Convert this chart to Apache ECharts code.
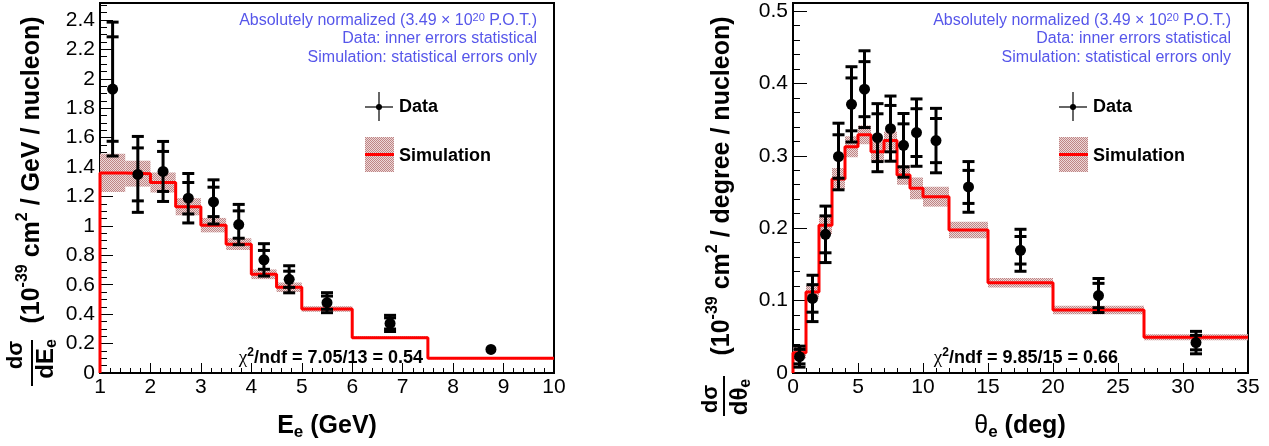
<!DOCTYPE html>
<html>
<head>
<meta charset="utf-8">
<script src="https://cdn.jsdelivr.net/npm/echarts@6/dist/echarts.min.js"></script>
<style>
  html, body { margin: 0; padding: 0; background: #fff; }
  #chart { width: 1269px; height: 446px; }
</style>
</head>
<body>
<div id="chart"></div>
<script>
// ---- electron energy panel ----
const eRange = [1, 10];
const eYMax = 2.515;
const eEdges = [1, 1.5, 2, 2.5, 3, 3.5, 4, 4.5, 5, 6, 7.5, 10];
const eSim = [1.36, 1.355, 1.295, 1.13, 1.005, 0.876, 0.671, 0.583, 0.435, 0.24, 0.10];
const eSimErr = [0.13, 0.088, 0.068, 0.058, 0.049, 0.04, 0.033, 0.032, 0.018, 0.009, 0.006];
const eX = [1.25, 1.75, 2.25, 2.75, 3.25, 3.75, 4.25, 4.75, 5.5, 6.75, 8.75];
const eY = [1.93, 1.35, 1.37, 1.188, 1.163, 1.009, 0.769, 0.637, 0.478, 0.337, 0.16];
const eStat = [0.355, 0.18, 0.136, 0.107, 0.10, 0.093, 0.064, 0.055, 0.045, 0.038, 0.012];
const eTot = [0.455, 0.258, 0.204, 0.168, 0.15, 0.137, 0.11, 0.092, 0.068, 0.055, 0.018];

// ---- electron angle panel ----
const tRange = [0, 35];
const tYMax = 0.511;
const tEdges = [0, 1, 2, 3, 4, 5, 6, 7, 8, 9, 10, 12, 15, 20, 27, 35];
const tSim = [0.028, 0.112, 0.204, 0.268, 0.3125, 0.329, 0.3055, 0.321, 0.2735, 0.255, 0.2435, 0.1975, 0.1247, 0.087, 0.0493];
const tSimErr = [0.008, 0.009, 0.012, 0.015, 0.0145, 0.013, 0.0135, 0.0125, 0.0135, 0.015, 0.0137, 0.0115, 0.0065, 0.006, 0.0042];
const tX = [0.5, 1.5, 2.5, 3.5, 4.5, 5.5, 6.5, 7.5, 8.5, 9.5, 11, 13.5, 17.5, 23.5, 31];
const tY = [0.0226, 0.103, 0.1915, 0.299, 0.371, 0.392, 0.325, 0.3375, 0.3144, 0.332, 0.321, 0.257, 0.1695, 0.107, 0.042];
const tStat = [0.010, 0.019, 0.0255, 0.030, 0.0365, 0.038, 0.033, 0.032, 0.0297, 0.033, 0.0305, 0.0228, 0.019, 0.0168, 0.010];
const tTot = [0.0145, 0.032, 0.039, 0.046, 0.052, 0.053, 0.047, 0.045, 0.044, 0.0465, 0.0445, 0.035, 0.029, 0.0235, 0.0155];

const F = '"Liberation Sans", Arial, Helvetica, sans-serif';
const BLUE = '#5656ea';

function hatchCanvas() {
  const c = document.createElement('canvas');
  c.width = 2; c.height = 2;
  const ctx = c.getContext('2d');
  ctx.fillStyle = '#ecd8d8';
  ctx.fillRect(0, 0, 2, 2);
  ctx.fillStyle = '#bf8484';
  ctx.fillRect(0, 0, 1, 1);
  ctx.fillRect(1, 1, 1, 1);
  return c;
}
const bandFill = { image: hatchCanvas(), repeat: 'repeat' };

// bins -> [x0, x1, lo, hi]
function bandData(edges, vals, errs) {
  return vals.map((v, i) => [edges[i], edges[i + 1], v - errs[i], v + errs[i]]);
}
// histogram outline, drawn with step:'end'
function stepData(edges, vals) {
  const pts = [[edges[0], 0]];
  vals.forEach((v, i) => pts.push([edges[i], v]));
  pts.push([edges[edges.length - 1], vals[vals.length - 1]]);
  return pts;
}
function pointData(xs, ys, st, tt) {
  return xs.map((x, i) => [x, ys[i], st[i], tt[i]]);
}

function renderBand(params, api) {
  const a = api.coord([api.value(0), api.value(3)]);
  const b = api.coord([api.value(1), api.value(2)]);
  return {
    type: 'rect',
    shape: { x: a[0], y: a[1], width: b[0] - a[0], height: b[1] - a[1] },
    style: { fill: bandFill }
  };
}

function renderPoint(params, api) {
  const x = api.value(0), y = api.value(1), st = api.value(2), tt = api.value(3);
  const c = api.coord([x, y]);
  const totHi = api.coord([x, y + tt])[1], totLo = api.coord([x, y - tt])[1];
  const stHi = api.coord([x, y + st])[1], stLo = api.coord([x, y - st])[1];
  const r = 5.5, hw = 6;
  const ls = { stroke: '#000', lineWidth: 3 };
  const kids = [];
  if (totLo - c[1] > r) {
    kids.push({ type: 'line', shape: { x1: c[0], y1: totHi, x2: c[0], y2: totLo }, style: ls });
    [totHi, totLo].forEach(yy => kids.push({ type: 'line', shape: { x1: c[0] - hw, y1: yy, x2: c[0] + hw, y2: yy }, style: ls }));
    if (stLo - c[1] > r) {
      [stHi, stLo].forEach(yy => kids.push({ type: 'line', shape: { x1: c[0] - hw, y1: yy, x2: c[0] + hw, y2: yy }, style: ls }));
    }
  }
  kids.push({ type: 'circle', shape: { cx: c[0], cy: c[1], r: r }, style: { fill: '#000' } });
  return { type: 'group', children: kids };
}

const labelStyle = { fontFamily: F, fontSize: 21, color: '#000' };

function xAxisOf(grid, range, interval, minorSplit) {
  return {
    gridIndex: grid, type: 'value', min: range[0], max: range[1], interval: interval,
    axisLine: { show: true, onZero: false, lineStyle: { color: '#000', width: 2 } },
    axisTick: { show: true, inside: true, length: 10, lineStyle: { color: '#000', width: 1 } },
    minorTick: { show: true, splitNumber: minorSplit, length: 5, lineStyle: { color: '#000', width: 1 } },
    splitLine: { show: false },
    axisLabel: Object.assign({ margin: 4 }, labelStyle)
  };
}
function yAxesOf(grid, max, interval, minorInterval, majorLen) {
  return [{
    gridIndex: grid, type: 'value', position: 'left', min: 0, max: max, interval: interval,
    axisLine: { show: true, onZero: false, lineStyle: { color: '#000', width: 2 } },
    axisTick: { show: true, inside: true, length: majorLen, lineStyle: { color: '#000', width: 1 } },
    splitLine: { show: false },
    axisLabel: Object.assign({ margin: 5, showMaxLabel: false }, labelStyle)
  }, {
    gridIndex: grid, type: 'value', position: 'left', min: 0, max: max, interval: minorInterval,
    axisLine: { show: false },
    axisTick: { show: true, inside: true, length: 7, lineStyle: { color: '#000', width: 1 } },
    splitLine: { show: false },
    axisLabel: { show: false }
  }];
}

function text(x, y, str, style, extra) {
  return Object.assign({
    type: 'text', x: x, y: y, z: 100, silent: true,
    style: Object.assign({ text: str, fill: '#000' }, style)
  }, extra || {});
}

const titleRich = {
  m: { fontFamily: F, fontSize: 25, fontWeight: 'bold', lineHeight: 34, verticalAlign: 'middle' },
  s: { fontFamily: F, fontSize: 16, fontWeight: 'bold', lineHeight: 8, verticalAlign: 'top' }
};
const fracRich = {
  m: { fontFamily: F, fontSize: 24, fontWeight: 'bold', lineHeight: 28, verticalAlign: 'middle' },
  b: { fontFamily: F, fontSize: 16, fontWeight: 'bold', lineHeight: 10, verticalAlign: 'bottom' }
};
const xTitleRich = {
  m: { fontFamily: F, fontSize: 25, fontWeight: 'bold', lineHeight: 30, verticalAlign: 'middle' },
  g: { fontFamily: F, fontSize: 25, fontWeight: 'normal', lineHeight: 30, verticalAlign: 'middle' },
  b: { fontFamily: F, fontSize: 17, fontWeight: 'bold', lineHeight: 12, verticalAlign: 'bottom' }
};
const blueRich = {
  t: { fontFamily: F, fontSize: 16, lineHeight: 18, verticalAlign: 'middle', fill: BLUE },
  s: { fontFamily: F, fontSize: 11, lineHeight: 10, verticalAlign: 'top', fill: BLUE }
};
const chiRich = {
  c: { fontFamily: '"Liberation Serif", serif', fontSize: 19, lineHeight: 22, verticalAlign: 'middle' },
  s: { fontFamily: F, fontSize: 12, fontWeight: 'bold', lineHeight: 8, verticalAlign: 'top' },
  b: { fontFamily: F, fontSize: 18, fontWeight: 'bold', lineHeight: 22, verticalAlign: 'middle' }
};
const ROT = Math.PI / 2;
const CENTER = { align: 'center', verticalAlign: 'middle', textAlign: 'center', textVerticalAlign: 'middle' };
const RIGHT = { align: 'right', verticalAlign: 'middle', textAlign: 'right', textVerticalAlign: 'middle' };
const LEFT = { align: 'left', verticalAlign: 'middle', textAlign: 'left', textVerticalAlign: 'middle' };

function panelDecor(p) {
  const els = [];
  // y title
  els.push(text(p.titleX, p.titleY, p.yTitle, Object.assign({ rich: titleRich }, CENTER), { rotation: ROT }));
  els.push(text(p.numX, p.numY, 'dσ', Object.assign({ font: 'bold 22px ' + F }, CENTER), { rotation: ROT }));
  els.push(text(p.denX, p.denY, p.den, Object.assign({ rich: fracRich }, CENTER), { rotation: ROT }));
  els.push({ type: 'line', z: 100, silent: true, shape: { x1: p.barX, y1: p.barY0, x2: p.barX, y2: p.barY1 }, style: { stroke: '#000', lineWidth: 2 } });
  // x title
  els.push(text(p.xTitleX, 426, p.xTitle, Object.assign({ rich: xTitleRich }, CENTER)));
  // info text
  els.push(text(p.infoX, 21, '{t|Absolutely normalized (3.49 × 10}{s|20}{t| P.O.T.)}', Object.assign({ rich: blueRich }, RIGHT)));
  els.push(text(p.infoX, 39, 'Data: inner errors statistical', Object.assign({ font: '16px ' + F, fill: BLUE }, RIGHT)));
  els.push(text(p.infoX, 57.5, 'Simulation: statistical errors only', Object.assign({ font: '16px ' + F, fill: BLUE }, RIGHT)));
  // legend
  const lx = p.legX;
  els.push({ type: 'line', z: 100, silent: true, shape: { x1: lx, y1: 107, x2: lx + 28, y2: 107 }, style: { stroke: '#333', lineWidth: 1.5 } });
  els.push({ type: 'line', z: 100, silent: true, shape: { x1: lx + 14, y1: 92, x2: lx + 14, y2: 121 }, style: { stroke: '#333', lineWidth: 1.5 } });
  els.push({ type: 'circle', z: 100, silent: true, shape: { cx: lx + 14, cy: 107, r: 3 }, style: { fill: '#000' } });
  els.push(text(lx + 34, 107, 'Data', Object.assign({ font: 'bold 18px ' + F }, LEFT)));
  els.push({ type: 'rect', z: 100, silent: true, shape: { x: lx, y: 137, width: 29, height: 35 }, style: { fill: bandFill } });
  els.push({ type: 'line', z: 100, silent: true, shape: { x1: lx, y1: 154.5, x2: lx + 29, y2: 154.5 }, style: { stroke: '#ff0000', lineWidth: 3 } });
  els.push(text(lx + 34, 156, 'Simulation', Object.assign({ font: 'bold 18px ' + F }, LEFT)));
  // chi2
  els.push(text(p.chiX, 358, p.chi, Object.assign({ rich: chiRich }, RIGHT)));
  return els;
}

const graphics = [].concat(
  panelDecor({
    titleX: 32, titleY: 170, yTitle: '{m|(10}{s|-39}{m| cm}{s|2}{m| / GeV / nucleon)}',
    numX: 16, numY: 355, denX: 46, denY: 359, den: '{m|dE}{b|e}',
    barX: 32, barY0: 340, barY1: 386,
    xTitleX: 327, xTitle: '{m|E}{b|e}{m| (GeV)}',
    infoX: 537, legX: 365, chiX: 423, chi: '{c|χ}{s|2}{b|/ndf = 7.05/13 = 0.54}'
  }),
  panelDecor({
    titleX: 722, titleY: 186, yTitle: '{m|(10}{s|-39}{m| cm}{s|2}{m| / degree / nucleon)}',
    numX: 711, numY: 399, denX: 740, denY: 397, den: '{m|dθ}{b|e}',
    barX: 724, barY0: 376, barY1: 416,
    xTitleX: 1020, xTitle: '{g|θ}{b|e}{m| (deg)}',
    infoX: 1231, legX: 1059, chiX: 1118, chi: '{c|χ}{s|2}{b|/ndf = 9.85/15 = 0.66}'
  })
);

const chart = echarts.init(document.getElementById('chart'));
chart.setOption({
  animation: false,
  backgroundColor: '#fff',
  grid: [
    { left: 100, top: 3, width: 454, height: 370, show: true, borderColor: '#000', borderWidth: 2, outerBoundsMode: 'none' },
    { left: 793, top: 3, width: 455, height: 370, show: true, borderColor: '#000', borderWidth: 2, outerBoundsMode: 'none' }
  ],
  xAxis: [
    xAxisOf(0, eRange, 1, 5),
    xAxisOf(1, tRange, 5, 5)
  ],
  yAxis: [].concat(
    yAxesOf(0, eYMax, 0.2, 0.05, 13),
    yAxesOf(1, tYMax, 0.1, 0.02, 14)
  ),
  series: [
    { type: 'custom', xAxisIndex: 0, yAxisIndex: 0, renderItem: renderBand, data: bandData(eEdges, eSim, eSimErr), encode: { x: [0, 1], y: [2, 3] }, z: 2 },
    { type: 'line', xAxisIndex: 0, yAxisIndex: 0, step: 'end', data: stepData(eEdges, eSim), showSymbol: false, symbol: 'none', clip: false, lineStyle: { color: '#ff0000', width: 3 }, z: 3 },
    { type: 'custom', xAxisIndex: 0, yAxisIndex: 0, renderItem: renderPoint, data: pointData(eX, eY, eStat, eTot), encode: { x: 0, y: 1 }, z: 4 },
    { type: 'custom', xAxisIndex: 1, yAxisIndex: 2, renderItem: renderBand, data: bandData(tEdges, tSim, tSimErr), encode: { x: [0, 1], y: [2, 3] }, z: 2 },
    { type: 'line', xAxisIndex: 1, yAxisIndex: 2, step: 'end', data: stepData(tEdges, tSim), showSymbol: false, symbol: 'none', clip: false, lineStyle: { color: '#ff0000', width: 3 }, z: 3 },
    { type: 'custom', xAxisIndex: 1, yAxisIndex: 2, renderItem: renderPoint, data: pointData(tX, tY, tStat, tTot), encode: { x: 0, y: 1 }, z: 4 }
  ],
  graphic: graphics
});
</script>
</body>
</html>
